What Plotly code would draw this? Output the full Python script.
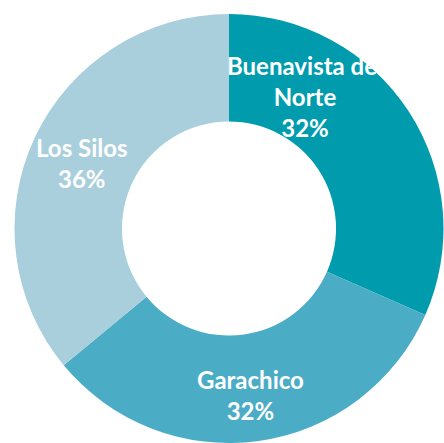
import plotly.graph_objects as go

labels = ["Buenavista del<br>Norte", "Garachico", "Los Silos"]
values = [31.6, 32.4, 36.0]
colors = ["#009CAE", "#4BACC6", "#A9CFDD"]

W, H = 444, 443

# label anchor positions (figure pixels from top-left, converted to paper)
label_px = [(305, 96), (250, 395), (82, 163)]

fig = go.Figure(go.Pie(
    labels=labels,
    values=values,
    hole=0.499,
    sort=False,
    direction="clockwise",
    rotation=0,
    marker=dict(colors=colors, line=dict(width=0)),
    textinfo="none",
    domain=dict(x=[14.5 / W, 443.5 / W], y=[0.0, 1 - 14 / H]),
    showlegend=False,
    hoverinfo="label+percent",
))

total = sum(values)
for lab, v, (px, py) in zip(labels, values, label_px):
    fig.add_annotation(
        x=px / W, y=1 - py / H, xref="paper", yref="paper",
        xanchor="center", yanchor="middle",
        text=f"{lab}<br>{v / total * 100:.0f}%",
        showarrow=False,
        font=dict(family="Lato", size=24, color="white", weight="bold"),
        align="center",
    )

fig.update_layout(
    width=W, height=H,
    margin=dict(l=0, r=0, t=0, b=0),
    paper_bgcolor="white",
)

fig.write_html(
    "out.html",
    config={"displayModeBar": False},
    post_script="document.body.style.margin='0px';",
)
